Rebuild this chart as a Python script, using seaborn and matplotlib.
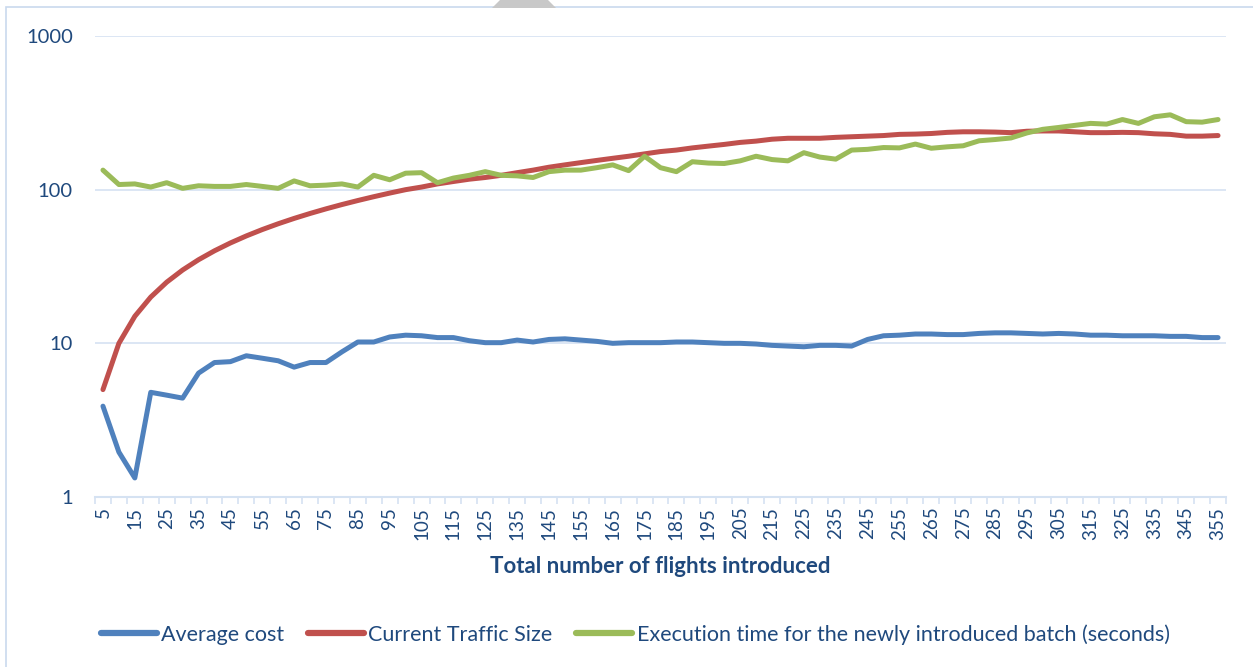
import numpy as np
import pandas as pd
import seaborn as sns
import matplotlib.pyplot as plt
from matplotlib.patches import Rectangle, Polygon
from matplotlib.lines import Line2D

# values
flights = list(range(5, 360, 5))

avg_cost = [3.9, 1.96, 1.33, 4.8, 4.6, 4.4, 6.4, 7.5, 7.6, 8.3,
            8.0, 7.7, 7.0, 7.5, 7.5, 8.8, 10.2, 10.2, 11.0, 11.3,
            11.2, 10.9, 10.9, 10.4, 10.1, 10.1, 10.5, 10.2, 10.6, 10.7,
            10.5, 10.3, 10.0, 10.1, 10.1, 10.1, 10.2, 10.2, 10.1, 10.0,
            10.0, 9.9, 9.7, 9.6, 9.5, 9.7, 9.7, 9.6, 10.6, 11.2,
            11.3, 11.5, 11.5, 11.4, 11.4, 11.6, 11.7, 11.7, 11.6, 11.5,
            11.6, 11.5, 11.3, 11.3, 11.2, 11.2, 11.2, 11.1, 11.1, 10.9, 10.9]

traffic_size = [5, 10, 15, 20, 25, 30, 35, 40, 45, 50,
                55, 60, 65, 70, 75, 80, 85, 90, 95, 100,
                104, 109, 113, 117, 120, 124, 129, 134, 140, 145,
                150, 155, 160, 165, 171, 177, 181, 187, 192, 197,
                203, 207, 213, 216, 216, 216, 219, 221, 223, 225,
                229, 230, 232, 236, 238, 238, 237, 235, 240, 241,
                241, 238, 235, 235, 236, 235, 231, 229, 223, 223, 225]

exec_time = [134, 108, 109, 104, 111, 102, 106, 105, 105, 108,
             105, 102, 114, 106, 107, 109, 104, 124, 116, 128,
             129, 111, 119, 124, 131, 124, 123, 120, 131, 134,
             134, 139, 145, 133, 165, 139, 131, 152, 149, 148,
             154, 165, 157, 154, 174, 163, 158, 181, 183, 188,
             187, 198, 186, 190, 193, 208, 212, 217, 234, 247,
             254, 262, 270, 267, 286, 270, 298, 307, 277, 275, 286]

series_names = ['Average cost', 'Current Traffic Size',
                'Execution time for the newly introduced batch (seconds)']
colors = ['#4F81BD', '#C0504D', '#9BBB59']

df = pd.DataFrame({
    'flights': flights * 3,
    'value': avg_cost + traffic_size + exec_time,
    'series': np.repeat(series_names, len(flights)),
})

sns.set_style('white')
plt.rcParams['font.family'] = ['Lato', 'DejaVu Sans']

text_col = '#1F497D'
grid_col = '#D5E2F2'

fig = plt.figure(figsize=(12.53, 6.67), dpi=100)
ax = fig.add_axes([95 / 1253, 1 - 497 / 667, (1226 - 95) / 1253, (497 - 36) / 667])

sns.lineplot(data=df, x='flights', y='value', hue='series',
             palette=dict(zip(series_names, colors)), linewidth=3.6,
             legend=False, ax=ax)

ax.set_yscale('log')
ax.set_ylim(1, 1000)
ax.set_xlim(2.5, 357.5)
ax.set_yticks([1, 10, 100, 1000], ['1', '10', '100', '1000'])
ax.yaxis.set_minor_locator(plt.NullLocator())
ax.set_xticks(flights[::2], [str(f) for f in flights[::2]], rotation=90)
ax.set_xticks(np.arange(2.5, 360, 5), minor=True)
ax.tick_params(axis='y', length=0, pad=16, labelsize=14.5, labelcolor=text_col)
ax.tick_params(axis='x', which='major', length=0, pad=7, labelsize=13.5,
               labelcolor=text_col)
ax.tick_params(axis='x', which='minor', length=5, width=1.2, color=grid_col,
               direction='out', bottom=True)

for sp in ['top', 'right', 'left']:
    ax.spines[sp].set_visible(False)
ax.spines['bottom'].set_color(grid_col)
ax.spines['bottom'].set_linewidth(1.5)
ax.grid(axis='y', which='major', color=grid_col, linewidth=1.2)
ax.set_axisbelow(True)

ax.set_ylabel('')
ax.set_xlabel('Total number of flights introduced', fontsize=16,
              fontweight='bold', color=text_col, labelpad=12)

handles = [Line2D([0], [0], color=c, lw=4.5) for c in colors]
fig.legend(handles, series_names, loc='center', bbox_to_anchor=(0.507, 0.049),
           ncol=3, frameon=False, fontsize=15.5, handlelength=2.6,
           handletextpad=0.2, columnspacing=1.1, labelcolor=text_col)

# chart frame and the grey shape at the top edge
fig.patches.append(Rectangle((6 / 1253, -0.05), 1.1, 1 - 7 / 667 + 0.05,
                             transform=fig.transFigure, fill=False,
                             edgecolor='#C9D9EE', linewidth=1.2))
fig.patches.append(Polygon([(500 / 1253, 1), (548 / 1253, 1),
                            (556 / 1253, 1 - 8 / 667), (492 / 1253, 1 - 8 / 667)],
                           closed=True, transform=fig.transFigure,
                           facecolor='#C8C8C8', edgecolor='none'))

fig.savefig('out.png', dpi=100)
